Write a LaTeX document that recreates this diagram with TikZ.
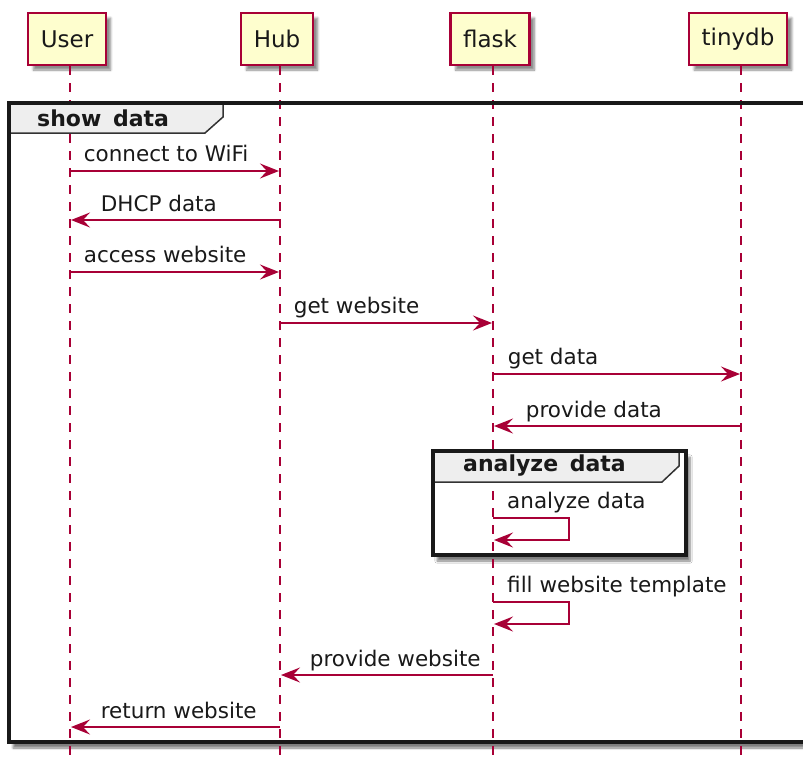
\documentclass[tikz,border=0pt]{standalone}
\usepackage{fontspec}
\setmainfont{DejaVu Sans}
\usetikzlibrary{arrows.meta,shadows.blur,calc}
\definecolor{pborder}{HTML}{A80036}
\definecolor{pfill}{HTML}{FEFECE}
\definecolor{tabfill}{HTML}{EEEEEE}
\begin{document}
\begin{tikzpicture}[x=1pt,y=-1pt,
  participant/.style={draw=pborder,fill=pfill,line width=2.2pt,minimum height=52pt,
    inner xsep=12.5pt,font=\fontsize{23}{27}\selectfont,text=black!90,
    blur shadow={shadow xshift=5pt,shadow yshift=-5pt,shadow blur steps=6,shadow opacity=45}},
  lifeline/.style={pborder,line width=1.6pt,dash pattern=on 8.5pt off 8.5pt},
  msg/.style={pborder,line width=1.7pt,shorten >=1pt,-{Stealth[length=19pt,width=15pt,inset=7pt]}},
  lbl/.style={font=\fontsize{21.5}{25}\selectfont,text=black!90,inner sep=0pt,anchor=base west},
  framefill/.style={fill=white,blur shadow={shadow xshift=4pt,shadow yshift=-6pt,shadow blur steps=6,shadow opacity=50}},
  frameline/.style={draw=black!90,line width=3.4pt},
  tab/.style={fill=tabfill,draw=black!80,line width=1.5pt},
  gtitle/.style={font=\bfseries\fontsize{22}{26}\selectfont,text=black!90,inner sep=0pt,anchor=west}
]
\clip (0,0) rectangle (803,758);
\useasboundingbox (0,0) rectangle (803,758);

% lifeline x positions
\coordinate (lu) at (70,0);
\coordinate (lh) at (280,0);
\coordinate (lf) at (493,0);
\coordinate (lt) at (741,0);
\coordinate (bot) at (0,760);

% frames (fill and shadow)
\path[framefill] (9,103) rectangle (830,742);
\path[framefill] (433,451) rectangle (686,555);
\draw[frameline] (9,103) rectangle (830,742);
\draw[frameline] (433,451) rectangle (686,555);

% participants
\node[participant] (User) at (67,39) {User};
\node[participant] (Hub) at (277,39) {Hub};
\node[participant] (flask) at (490,39) {flask};
\node[participant] (tinydb) at (738,39) {tinydb};

% lifelines
\draw[lifeline] (User.south -| lu) -- (lu |- bot);
\draw[lifeline] (Hub.south -| lh) -- (lh |- bot);
\draw[lifeline] (flask.south -| lf) -- (lf |- bot);
\draw[lifeline] (tinydb.south -| lt) -- (lt |- bot);

% group tabs
\draw[tab] (9,103) -- (223,103) -- (223,117) -- (205,133) -- (9,133) -- cycle;
\draw[tab] (433,451) -- (679,451) -- (679,466) -- (662,482) -- (433,482) -- cycle;
\draw[frameline] (9,742) -- (9,103) -- (830,103);
\draw[frameline] (433,555) -- (433,451) -- (686,451) -- (686,555);
\node[gtitle] (gshow) at (37,118) {show\hspace{4pt} data};
\node[gtitle] (ganalyze) at (463,466) {analyze\hspace{4pt} data};

% messages
\draw[msg] (lu |- 0,171) -- (lh |- 0,171)
  node[lbl,at start,xshift=13pt,yshift=10pt] (m1) {connect to WiFi};
\draw[msg] (lh |- 0,220) -- (lu |- 0,220)
  node[lbl,at end,xshift=30pt,yshift=9pt] (m2) {DHCP data};
\draw[msg] (lu |- 0,272) -- (lh |- 0,272)
  node[lbl,at start,xshift=13pt,yshift=10pt] (m3) {access website};
\draw[msg] (lh |- 0,323) -- (lf |- 0,323)
  node[lbl,at start,xshift=13pt,yshift=10pt] (m4) {get website};
\draw[msg] (lf |- 0,374) -- (lt |- 0,374)
  node[lbl,at start,xshift=14pt,yshift=10pt] (m5) {get data};
\draw[msg] (lt |- 0,426) -- (lf |- 0,426)
  node[lbl,at end,xshift=32pt,yshift=9pt] (m6) {provide data};
\draw[msg] (lf |- 0,518) -- ++(76,0) -- ++(0,22) -- (lf |- 0,540);
\node[lbl] (m7) at ($(lf |- 0,508)+(14,0)$) {analyze data};
\draw[msg] (lf |- 0,602) -- ++(76,0) -- ++(0,22) -- (lf |- 0,624);
\node[lbl] (m8) at ($(lf |- 0,592)+(14,0)$) {fill website template};
\draw[msg] (lf |- 0,675) -- (lh |- 0,675)
  node[lbl,at end,xshift=29pt,yshift=9pt] (m9) {provide website};
\draw[msg] (lh |- 0,727) -- (lu |- 0,727)
  node[lbl,at end,xshift=30pt,yshift=9pt] (m10) {return website};
\end{tikzpicture}
\end{document}
